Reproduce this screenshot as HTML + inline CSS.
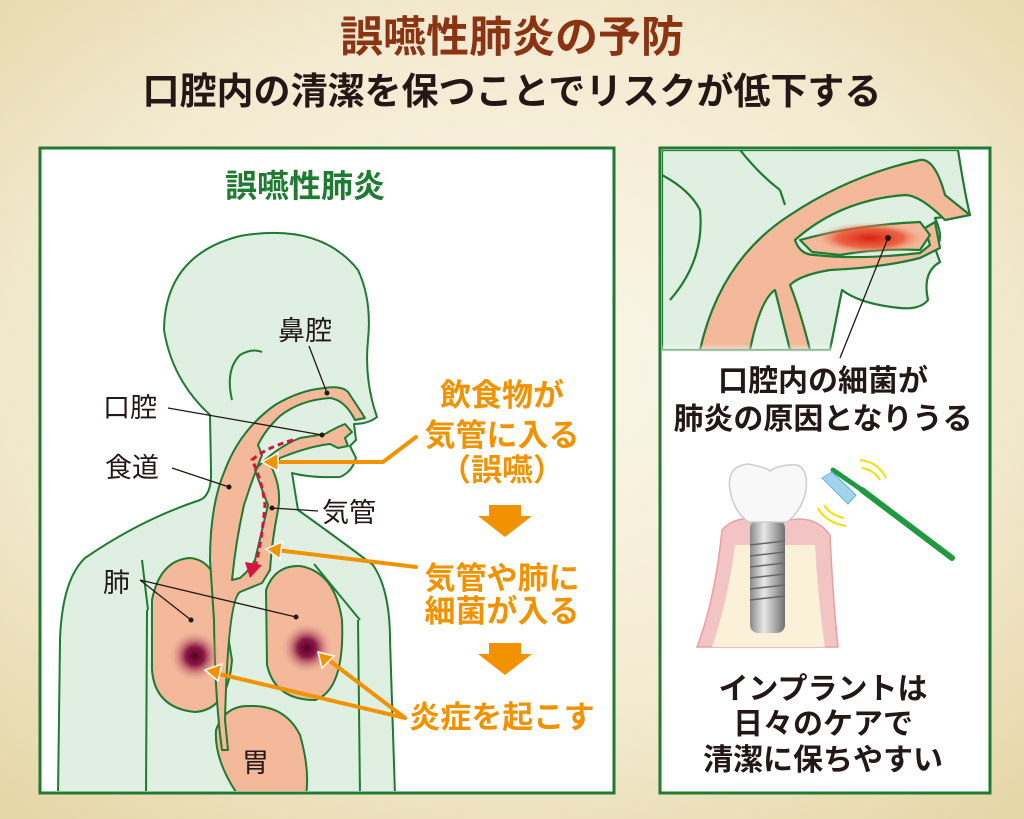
<!DOCTYPE html>
<html><head><meta charset="utf-8"><style>
html,body{margin:0;padding:0}
body{width:1024px;height:819px;overflow:hidden;background:radial-gradient(ellipse 75% 70% at 50% 45%,#fbf7ea 0%,#f3ead0 60%,#e6d7a8 100%);font-family:"Liberation Sans","Noto Sans CJK JP",sans-serif;position:relative}
svg{position:absolute;left:0;top:0}
</style></head><body>
<svg width="1024" height="819" viewBox="0 0 1024 819" font-family="Liberation Sans, Noto Sans CJK JP, sans-serif" font-weight="bold">
<defs>
<radialGradient id="inf"><stop offset="0" stop-color="#5a0020"/><stop offset="0.35" stop-color="#8a1848"/><stop offset="1" stop-color="#f4b89a" stop-opacity="0"/></radialGradient>
<radialGradient id="red"><stop offset="0" stop-color="#d82010"/><stop offset="0.6" stop-color="#e85030" stop-opacity="0.8"/><stop offset="1" stop-color="#f4b89a" stop-opacity="0"/></radialGradient>
<linearGradient id="scr" x1="0" x2="1"><stop offset="0" stop-color="#8a8a8a"/><stop offset="0.4" stop-color="#e8e8e8"/><stop offset="1" stop-color="#707070"/></linearGradient>
<linearGradient id="fadeR" x1="0" y1="0" x2="0" y2="1"><stop offset="0.8" stop-color="#fff" stop-opacity="0"/><stop offset="1" stop-color="#fff"/></linearGradient>
<clipPath id="cl"><rect x="42" y="150" width="570" height="641"/></clipPath>
<clipPath id="cr"><rect x="662" y="150" width="326" height="641"/></clipPath>
</defs>
<text x="512" y="52" text-anchor="middle" font-size="43" fill="#8a3414">誤嚥性肺炎の予防</text>
<text x="512" y="104" text-anchor="middle" font-size="37" fill="#231815">口腔内の清潔を保つことでリスクが低下する</text>

<rect x="40" y="148" width="574" height="645" fill="#fff" stroke="#1f7a32" stroke-width="3"/>
<rect x="660" y="148" width="330" height="645" fill="#fff" stroke="#1f7a32" stroke-width="3"/>

<g clip-path="url(#cl)" stroke="#1f7a32" stroke-width="2" stroke-linejoin="round">
<path d="M58 795 L60 640 Q62 580 85 558 Q140 520 200 500 Q212 495 211 470 L210 415 Q172 380 164 330 Q165 255 240 236 Q320 222 358 270 Q372 300 368 340 Q364 380 377 417 Q368 424 354 424 L356 440 L350 446 L356 458 Q352 472 340 477 Q310 478 292 473 L298 510 Q340 540 373 565 Q390 590 390 640 L395 795 Z" fill="#dff0e2"/>
<path d="M232 400 Q225 370 240 355 Q252 348 262 352" fill="none"/>
<path d="M146 795 L147 610 M360 795 L358 620 M142 560 L148 610 M314 564 L360 620" fill="none"/>
<path d="M152 600 Q160 560 190 558 Q215 560 222 600 L232 660 Q228 710 195 712 Q155 708 152 670 Z" fill="#f4b99a"/>
<path d="M266 590 Q275 565 300 566 Q335 572 342 620 Q345 690 315 700 Q275 700 267 665 Z" fill="#f4b99a"/>
<path d="M238 795 Q214 760 216 730 Q225 705 250 706 Q285 705 300 735 Q310 770 306 795 Z" fill="#f4b99a"/>
<path d="M210 560 Q210 505 225 470 Q240 430 275 405 Q300 390 325 388 Q345 385 350 395 Q360 410 365 418 L355 420 Q345 400 330 398 Q300 400 280 416 Q265 430 258 445 L262 455 Q252 480 244 505 Q236 540 232 580 L240 578 Q250 570 255 560 Q262 530 268 505 Q262 490 255 470 Q275 448 300 438 L325 434 Q335 428 345 424 L352 432 L345 438 L348 446 L338 448 L330 444 Q310 446 280 458 L272 468 Q282 490 278 510 Q272 540 270 570 L262 583 L240 592 Q228 600 225 720 L228 750 L222 750 Q215 700 214 620 Z" fill="#f4b99a"/>
<circle cx="195" cy="656" r="26" fill="url(#inf)" stroke="none"/>
<circle cx="307" cy="648" r="26" fill="url(#inf)" stroke="none"/>
</g>
<text x="305" y="197" text-anchor="middle" font-size="32" fill="#1f7a32" stroke="#fff" stroke-width="5" paint-order="stroke">誤嚥性肺炎</text>
<path d="M293 440 Q265 448 252 460 Q262 480 265 505 Q262 540 255 568" fill="none" stroke="#d4143c" stroke-width="3" stroke-dasharray="6 4"/>
<path d="M245 562 L262 565 L250 578 Z" fill="#d4143c"/>
<g stroke="#231815" stroke-width="1.3" fill="none">
<path d="M309 346 L327 393"/><path d="M168 408 L322 435"/><path d="M172 468 L229 487"/><path d="M318 511 L272 508"/>
<path d="M140 580 L191 620 M140 580 L296 617"/>
</g>
<g fill="#231815"><circle cx="327" cy="393" r="2.5"/><circle cx="322" cy="435" r="2.5"/><circle cx="229" cy="487" r="2.5"/><circle cx="272" cy="508" r="2.5"/><circle cx="191" cy="620" r="2.5"/><circle cx="296" cy="617" r="2.5"/></g>
<g font-size="27" fill="#231815" font-weight="normal">
<text x="278" y="340">鼻腔</text><text x="103" y="417">口腔</text><text x="105" y="477">食道</text><text x="322" y="522">気管</text><text x="103" y="592">肺</text><text x="242" y="772">胃</text>
</g>
<g stroke="#f39200" stroke-width="4" fill="none" stroke-linecap="round">
<path d="M416 437 L383 462 L272 462"/>
<path d="M416 567 L276 550"/>
<path d="M405 718 L215 673 M405 718 L326 658"/>
</g>
<g stroke="#fff" stroke-width="1.5" fill="#f39200">
<path d="M262 462 L278 453 L278 471 Z"/>
<path d="M266 549 L282 542 L280 559 Z"/>
<path d="M205 670 L222 664 L218 681 Z"/>
<path d="M318 652 L334 656 L322 668 Z"/>
</g>
<g font-size="31" fill="#f39200" text-anchor="middle">
<text x="502" y="406">飲食物が</text><text x="502" y="446">気管に入る</text><text x="502" y="481">（誤嚥）</text>
<text x="502" y="589">気管や肺に</text><text x="502" y="622">細菌が入る</text>
<text x="502" y="728">炎症を起こす</text>
</g>
<path d="M489 505 L521 505 L521 516 L532 516 L505 537 L478 516 L489 516 Z" fill="#f39200"/>
<path d="M489 643 L521 643 L521 654 L532 654 L505 675 L478 654 L489 654 Z" fill="#f39200"/>

<g clip-path="url(#cr)" stroke="#1f7a32" stroke-width="2.2" stroke-linejoin="round">
<path d="M662 150 L958 150 Q965 195 970 215 L935 218 Q945 240 935 248 L940 262 Q922 272 928 300 Q920 310 900 308 Q860 304 842 290 L830 350 L662 350 Z" fill="#dff0e2"/>
<path d="M700 350 Q720 260 790 215 Q850 175 920 160 Q935 158 945 195 L970 215 L945 220 Q920 195 905 195 Q840 200 795 240 Q800 255 815 255 Q860 260 920 253 L930 245 L925 228 L935 222 L940 248 L920 258 Q880 268 830 270 Q800 275 790 285 Q800 310 810 350 L790 350 Q780 310 775 290 Q760 300 750 350 Z" fill="#f4b99a"/>
<path d="M800 240 Q855 225 920 222 L930 235 L920 250 Q880 248 840 255 L812 252 Z" fill="#f4b99a"/>
<ellipse cx="870" cy="238" rx="55" ry="16" fill="url(#red)" stroke="none"/>
<path d="M740 150 Q760 175 780 190 M662 175 Q690 190 700 210 Q705 260 670 300 M780 190 L785 205" fill="none"/>
<rect x="662" y="300" width="326" height="55" fill="url(#fadeR)" stroke="none"/>
</g>
<line x1="888" y1="238" x2="840" y2="358" stroke="#231815" stroke-width="1.3"/>
<circle cx="888" cy="238" r="3" fill="#231815"/>
<g font-size="30" fill="#231815" text-anchor="middle">
<text x="823" y="391">口腔内の細菌が</text><text x="823" y="429">肺炎の原因となりうる</text>
<text x="823" y="699">インプラントは</text><text x="823" y="734">日々のケアで</text><text x="823" y="770">清潔に保ちやすい</text>
</g>
<path d="M697 647 Q715 600 722 530 Q735 515 760 520 L790 520 Q815 515 830 535 Q833 600 838 647 Z" fill="#f3c4c4" stroke="#e8a0a0" stroke-width="1.5"/>
<path d="M712 647 Q728 600 735 545 L815 545 Q818 600 825 647 Z" fill="#fbf1d8"/>
<rect x="750" y="520" width="35" height="113" rx="8" fill="url(#scr)"/>
<g stroke="#666" stroke-width="1.5"><line x1="750" y1="545" x2="785" y2="541"/><line x1="750" y1="556" x2="785" y2="552"/><line x1="750" y1="567" x2="785" y2="563"/><line x1="750" y1="578" x2="785" y2="574"/><line x1="750" y1="589" x2="785" y2="585"/><line x1="750" y1="600" x2="785" y2="596"/></g>
<path d="M730 490 Q726 466 748 464 Q765 467 770 471 Q780 464 797 465 Q810 470 805 495 Q800 512 787 522 L748 522 Q733 510 730 490 Z" fill="#f8f8f8" stroke="#ccc" stroke-width="1.5"/>
<line x1="862" y1="490" x2="952" y2="558" stroke="#1f9a40" stroke-width="6" stroke-linecap="round"/>
<line x1="833" y1="470" x2="862" y2="490" stroke="#1f9a40" stroke-width="5" stroke-linecap="round"/>
<path d="M822 478 L832 472 L856 495 L848 504 Z" fill="#9fd3ee" stroke="#6ab0d8"/>
<g stroke="#f5e000" stroke-width="2" fill="none"><path d="M860 460 Q878 462 886 478 M862 468 Q874 470 880 480"/><path d="M818 508 Q825 522 846 526 M824 505 Q830 515 844 518"/></g>
</svg>
</body></html>
